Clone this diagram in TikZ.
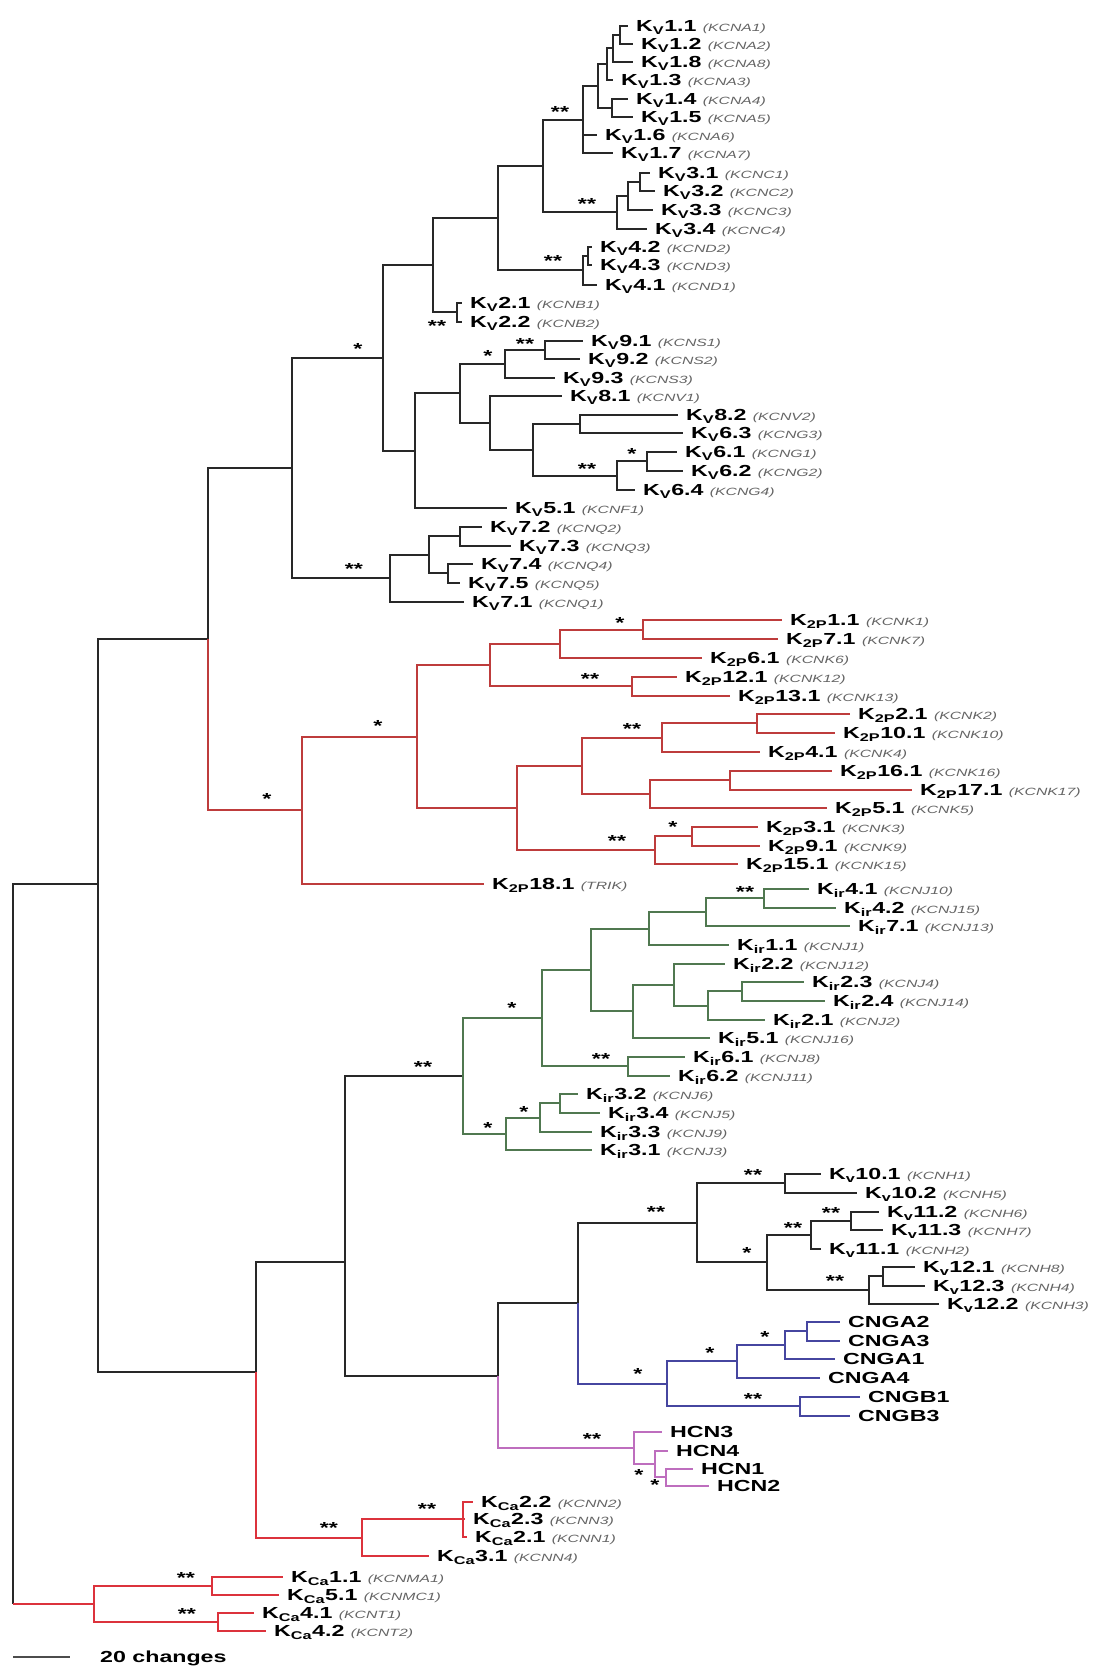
\documentclass[tikz,border=0pt]{standalone}
\usepackage{fontspec}
\setmainfont{Liberation Sans}
\newfontfamily\namefont[FakeStretch=1.45]{Liberation Sans}
\newfontfamily\genefont[FakeStretch=1.5]{Liberation Sans}
\usetikzlibrary{positioning}

\definecolor{kvline}{RGB}{40,40,40}
\definecolor{ktwop}{RGB}{190,60,60}
\definecolor{kirline}{RGB}{80,120,80}
\definecolor{cngline}{RGB}{70,70,160}
\definecolor{hcnline}{RGB}{190,110,190}
\definecolor{kcaline}{RGB}{220,50,60}
\definecolor{genegray}{RGB}{100,100,100}

\newcommand{\chan}[2]{K\textsubscript{#1}#2}
\newcommand{\gene}[1]{{\genefont\mdseries\itshape\fontsize{10.5}{12}\selectfont\color{genegray}(#1)}}

\tikzstyle{branch} = [line width=2pt, draw=kvline]
\tikzstyle{twopbranch} = [branch, draw=ktwop]
\tikzstyle{kirbranch} = [branch, draw=kirline]
\tikzstyle{cngbranch} = [branch, draw=cngline]
\tikzstyle{hcnbranch} = [branch, draw=hcnline]
\tikzstyle{kcabranch} = [branch, draw=kcaline]
\tikzstyle{leaf} = [anchor=west, inner sep=0pt, inner xsep=8pt, text height=11.5pt, text depth=0pt, font=\namefont\bfseries\fontsize{16}{19}\selectfont]
\tikzstyle{boot} = [anchor=base, inner sep=0pt, yshift=-9.5pt, font=\namefont\bfseries\fontsize{16}{19}\selectfont]

\begin{document}
\begin{tikzpicture}[x=1pt,y=-1pt]
\useasboundingbox (0,0) rectangle (1109,1674);

% Kv leaves
\node [leaf] (kv11) at (628,26) {\chan{V}{1.1} \gene{KCNA1}};
\node [leaf] (kv12) at (633,44) {\chan{V}{1.2} \gene{KCNA2}};
\node [leaf] (kv18) at (633,62) {\chan{V}{1.8} \gene{KCNA8}};
\node [leaf] (kv13) at (613,80) {\chan{V}{1.3} \gene{KCNA3}};
\node [leaf] (kv14) at (628,99) {\chan{V}{1.4} \gene{KCNA4}};
\node [leaf] (kv15) at (633,117) {\chan{V}{1.5} \gene{KCNA5}};
\node [leaf] (kv16) at (597,135) {\chan{V}{1.6} \gene{KCNA6}};
\node [leaf] (kv17) at (613,153) {\chan{V}{1.7} \gene{KCNA7}};
\node [leaf] (kv31) at (650,173) {\chan{V}{3.1} \gene{KCNC1}};
\node [leaf] (kv32) at (655,191) {\chan{V}{3.2} \gene{KCNC2}};
\node [leaf] (kv33) at (653,210) {\chan{V}{3.3} \gene{KCNC3}};
\node [leaf] (kv34) at (647,229) {\chan{V}{3.4} \gene{KCNC4}};
\node [leaf] (kv42) at (592,247) {\chan{V}{4.2} \gene{KCND2}};
\node [leaf] (kv43) at (592,265) {\chan{V}{4.3} \gene{KCND3}};
\node [leaf] (kv41) at (597,285) {\chan{V}{4.1} \gene{KCND1}};
\node [leaf] (kv21) at (462,303) {\chan{V}{2.1} \gene{KCNB1}};
\node [leaf] (kv22) at (462,322) {\chan{V}{2.2} \gene{KCNB2}};
\node [leaf] (kv91) at (583,341) {\chan{V}{9.1} \gene{KCNS1}};
\node [leaf] (kv92) at (580,359) {\chan{V}{9.2} \gene{KCNS2}};
\node [leaf] (kv93) at (555,378) {\chan{V}{9.3} \gene{KCNS3}};
\node [leaf] (kv81) at (562,396) {\chan{V}{8.1} \gene{KCNV1}};
\node [leaf] (kv82) at (678,415) {\chan{V}{8.2} \gene{KCNV2}};
\node [leaf] (kv63) at (683,433) {\chan{V}{6.3} \gene{KCNG3}};
\node [leaf] (kv61) at (677,452) {\chan{V}{6.1} \gene{KCNG1}};
\node [leaf] (kv62) at (683,471) {\chan{V}{6.2} \gene{KCNG2}};
\node [leaf] (kv64) at (635,490) {\chan{V}{6.4} \gene{KCNG4}};
\node [leaf] (kv51) at (507,508) {\chan{V}{5.1} \gene{KCNF1}};
\node [leaf] (kv72) at (482,527) {\chan{V}{7.2} \gene{KCNQ2}};
\node [leaf] (kv73) at (511,546) {\chan{V}{7.3} \gene{KCNQ3}};
\node [leaf] (kv74) at (473,564) {\chan{V}{7.4} \gene{KCNQ4}};
\node [leaf] (kv75) at (460,583) {\chan{V}{7.5} \gene{KCNQ5}};
\node [leaf] (kv71) at (464,602) {\chan{V}{7.1} \gene{KCNQ1}};

% K2P leaves
\node [leaf] (p11) at (782,620) {\chan{2P}{1.1} \gene{KCNK1}};
\node [leaf] (p71) at (778,639) {\chan{2P}{7.1} \gene{KCNK7}};
\node [leaf] (p61) at (702,658) {\chan{2P}{6.1} \gene{KCNK6}};
\node [leaf] (p121) at (677,677) {\chan{2P}{12.1} \gene{KCNK12}};
\node [leaf] (p131) at (730,696) {\chan{2P}{13.1} \gene{KCNK13}};
\node [leaf] (p21) at (850,714) {\chan{2P}{2.1} \gene{KCNK2}};
\node [leaf] (p101) at (835,733) {\chan{2P}{10.1} \gene{KCNK10}};
\node [leaf] (p41) at (760,752) {\chan{2P}{4.1} \gene{KCNK4}};
\node [leaf] (p161) at (832,771) {\chan{2P}{16.1} \gene{KCNK16}};
\node [leaf] (p171) at (912,790) {\chan{2P}{17.1} \gene{KCNK17}};
\node [leaf] (p51) at (827,808) {\chan{2P}{5.1} \gene{KCNK5}};
\node [leaf] (p31) at (758,827) {\chan{2P}{3.1} \gene{KCNK3}};
\node [leaf] (p91) at (760,846) {\chan{2P}{9.1} \gene{KCNK9}};
\node [leaf] (p151) at (738,864) {\chan{2P}{15.1} \gene{KCNK15}};
\node [leaf] (p181) at (484,884) {\chan{2P}{18.1} \gene{TRIK}};

% Kir leaves
\node [leaf] (r41) at (809,889) {\chan{ir}{4.1} \gene{KCNJ10}};
\node [leaf] (r42) at (836,908) {\chan{ir}{4.2} \gene{KCNJ15}};
\node [leaf] (r71) at (850,926) {\chan{ir}{7.1} \gene{KCNJ13}};
\node [leaf] (r11) at (729,945) {\chan{ir}{1.1} \gene{KCNJ1}};
\node [leaf] (r22) at (725,964) {\chan{ir}{2.2} \gene{KCNJ12}};
\node [leaf] (r23) at (804,982) {\chan{ir}{2.3} \gene{KCNJ4}};
\node [leaf] (r24) at (825,1001) {\chan{ir}{2.4} \gene{KCNJ14}};
\node [leaf] (r21) at (765,1020) {\chan{ir}{2.1} \gene{KCNJ2}};
\node [leaf] (r51) at (710,1038) {\chan{ir}{5.1} \gene{KCNJ16}};
\node [leaf] (r61) at (685,1057) {\chan{ir}{6.1} \gene{KCNJ8}};
\node [leaf] (r62) at (670,1076) {\chan{ir}{6.2} \gene{KCNJ11}};
\node [leaf] (r32) at (578,1094) {\chan{ir}{3.2} \gene{KCNJ6}};
\node [leaf] (r34) at (600,1113) {\chan{ir}{3.4} \gene{KCNJ5}};
\node [leaf] (r33) at (592,1132) {\chan{ir}{3.3} \gene{KCNJ9}};
\node [leaf] (r31) at (592,1150) {\chan{ir}{3.1} \gene{KCNJ3}};

% Keag leaves
\node [leaf] (h101) at (821,1174) {\chan{v}{10.1} \gene{KCNH1}};
\node [leaf] (h102) at (857,1193) {\chan{v}{10.2} \gene{KCNH5}};
\node [leaf] (h112) at (879,1212) {\chan{v}{11.2} \gene{KCNH6}};
\node [leaf] (h113) at (883,1230) {\chan{v}{11.3} \gene{KCNH7}};
\node [leaf] (h111) at (821,1249) {\chan{v}{11.1} \gene{KCNH2}};
\node [leaf] (h121) at (915,1267) {\chan{v}{12.1} \gene{KCNH8}};
\node [leaf] (h123) at (925,1286) {\chan{v}{12.3} \gene{KCNH4}};
\node [leaf] (h122) at (939,1304) {\chan{v}{12.2} \gene{KCNH3}};

% CNG and HCN leaves
\node [leaf] (ca2) at (840,1322) {CNGA2};
\node [leaf] (ca3) at (840,1341) {CNGA3};
\node [leaf] (ca1) at (835,1359) {CNGA1};
\node [leaf] (ca4) at (820,1378) {CNGA4};
\node [leaf] (cb1) at (860,1397) {CNGB1};
\node [leaf] (cb3) at (850,1416) {CNGB3};
\node [leaf] (hcn3) at (662,1432) {HCN3};
\node [leaf] (hcn4) at (668,1451) {HCN4};
\node [leaf] (hcn1) at (693,1469) {HCN1};
\node [leaf] (hcn2) at (709,1486) {HCN2};

% KCa leaves
\node [leaf] (c22) at (473,1502) {\chan{Ca}{2.2} \gene{KCNN2}};
\node [leaf] (c23) at (465,1519) {\chan{Ca}{2.3} \gene{KCNN3}};
\node [leaf] (c21) at (467,1537) {\chan{Ca}{2.1} \gene{KCNN1}};
\node [leaf] (c31) at (429,1556) {\chan{Ca}{3.1} \gene{KCNN4}};
\node [leaf] (c11) at (283,1577) {\chan{Ca}{1.1} \gene{KCNMA1}};
\node [leaf] (c51) at (279,1595) {\chan{Ca}{5.1} \gene{KCNMC1}};
\node [leaf] (c41) at (254,1613) {\chan{Ca}{4.1} \gene{KCNT1}};
\node [leaf] (c42) at (266,1631) {\chan{Ca}{4.2} \gene{KCNT2}};

% internal nodes
\coordinate (n11) at (620,35);
\coordinate (n12) at (613,48);
\coordinate (n13) at (607,64);
\coordinate (n14) at (612,108);
\coordinate (n15) at (598,86);
\coordinate (kv1) at (583,120);
\coordinate (n31) at (640,182);
\coordinate (n32) at (628,196);
\coordinate (kv3) at (617,212);
\coordinate (kv13g) at (543,166);
\coordinate (n41) at (588,256);
\coordinate (kv4) at (583,270);
\coordinate (kv134) at (498,218);
\coordinate (kv2) at (457,312);
\coordinate (kvE) at (433,265);
\coordinate (n91) at (545,350);
\coordinate (n92) at (505,364);
\coordinate (n61) at (647,461);
\coordinate (n62) at (617,476);
\coordinate (n81) at (580,424);
\coordinate (n63) at (533,450);
\coordinate (n82) at (490,423);
\coordinate (kvG) at (460,393);
\coordinate (kvF) at (415,451);
\coordinate (kvD) at (383,358);
\coordinate (n71) at (460,536);
\coordinate (n72) at (448,573);
\coordinate (n73) at (429,555);
\coordinate (kv7) at (390,578);
\coordinate (kvC) at (292,468);
\coordinate (nB) at (208,639);
\coordinate (L2) at (643,630);
\coordinate (L1) at (560,644);
\coordinate (L3) at (632,686);
\coordinate (L) at (490,665);
\coordinate (M3) at (757,723);
\coordinate (M2) at (662,738);
\coordinate (M5) at (730,780);
\coordinate (M4) at (650,794);
\coordinate (M1) at (582,766);
\coordinate (M7) at (692,836);
\coordinate (M6) at (655,850);
\coordinate (M) at (517,808);
\coordinate (twopK) at (417,737);
\coordinate (twop) at (302,810);
\coordinate (X4) at (764,898);
\coordinate (X3) at (706,912);
\coordinate (X2) at (649,929);
\coordinate (X8) at (742,991);
\coordinate (X7) at (708,1006);
\coordinate (X6) at (674,985);
\coordinate (X5) at (633,1011);
\coordinate (X1) at (591,970);
\coordinate (X9) at (628,1066);
\coordinate (X) at (542,1018);
\coordinate (Y2) at (560,1103);
\coordinate (Y1) at (540,1118);
\coordinate (Y) at (506,1134);
\coordinate (kir) at (463,1076);
\coordinate (eag10) at (785,1183);
\coordinate (eag11a) at (851,1221);
\coordinate (eag11) at (811,1235);
\coordinate (eag12a) at (883,1276);
\coordinate (eag12) at (869,1290);
\coordinate (eag1) at (767,1262);
\coordinate (eag) at (697,1223);
\coordinate (cngC3) at (807,1331);
\coordinate (cngC2) at (785,1345);
\coordinate (cngC1) at (737,1361);
\coordinate (cngB) at (800,1406);
\coordinate (cng) at (667,1384);
\coordinate (eagcng) at (578,1303);
\coordinate (hcnH2) at (666,1477);
\coordinate (hcnH1) at (655,1464);
\coordinate (hcn) at (634,1448);
\coordinate (nP) at (498,1376);
\coordinate (nR) at (345,1262);
\coordinate (kca2) at (463,1519);
\coordinate (kca23) at (362,1538);
\coordinate (nQ) at (256,1372);
\coordinate (nA) at (98,884);
\coordinate (kcaU) at (212,1586);
\coordinate (kcaV) at (218,1622);
\coordinate (kcaT) at (94,1604);
\coordinate (root) at (13,1244);

% branches
\foreach \p/\c in {n11/kv11, n11/kv12, n12/n11, n12/kv18, n13/n12, n13/kv13,
  n14/kv14, n14/kv15, n15/n13, n15/n14, kv1/n15, kv1/kv16, kv1/kv17,
  n31/kv31, n31/kv32, n32/n31, n32/kv33, kv3/n32, kv3/kv34, kv13g/kv1, kv13g/kv3,
  n41/kv42, n41/kv43, kv4/n41, kv4/kv41, kv134/kv13g, kv134/kv4,
  kv2/kv21, kv2/kv22, kvE/kv134, kvE/kv2,
  n91/kv91, n91/kv92, n92/n91, n92/kv93, n61/kv61, n61/kv62, n62/n61, n62/kv64,
  n81/kv82, n81/kv63, n63/n81, n63/n62, n82/kv81, n82/n63, kvG/n92, kvG/n82,
  kvF/kvG, kvF/kv51, kvD/kvE, kvD/kvF,
  n71/kv72, n71/kv73, n72/kv74, n72/kv75, n73/n71, n73/n72, kv7/n73, kv7/kv71,
  kvC/kvD, kvC/kv7, nB/kvC, nA/nB, nA/nQ, nQ/nR, nR/kir, nR/nP, nP/eagcng, eagcng/eag,
  eag10/h101, eag10/h102, eag11a/h112, eag11a/h113, eag11/eag11a, eag11/h111,
  eag12a/h121, eag12a/h123, eag12/eag12a, eag12/h122, eag1/eag11, eag1/eag12,
  eag/eag10, eag/eag1}
  \draw [branch] (\p) |- (\c);

\foreach \p/\c in {nB/twop, twop/twopK, twop/p181, twopK/L, twopK/M, L/L1, L/L3,
  L1/L2, L1/p61, L2/p11, L2/p71, L3/p121, L3/p131, M/M1, M/M6, M1/M2, M1/M4,
  M2/M3, M2/p41, M3/p21, M3/p101, M4/M5, M4/p51, M5/p161, M5/p171,
  M6/M7, M6/p151, M7/p31, M7/p91}
  \draw [twopbranch] (\p) |- (\c);

\foreach \p/\c in {kir/X, kir/Y, X/X1, X/X9, X1/X2, X1/X5, X2/X3, X2/r11,
  X3/X4, X3/r71, X4/r41, X4/r42, X5/X6, X5/r51, X6/r22, X6/X7, X7/X8, X7/r21,
  X8/r23, X8/r24, X9/r61, X9/r62, Y/Y1, Y/r31, Y1/Y2, Y1/r33, Y2/r32, Y2/r34}
  \draw [kirbranch] (\p) |- (\c);

\foreach \p/\c in {eagcng/cng, cng/cngC1, cng/cngB, cngC1/cngC2, cngC1/ca4,
  cngC2/cngC3, cngC2/ca1, cngC3/ca2, cngC3/ca3, cngB/cb1, cngB/cb3}
  \draw [cngbranch] (\p) |- (\c);

\foreach \p/\c in {nP/hcn, hcn/hcn3, hcn/hcnH1, hcnH1/hcn4, hcnH1/hcnH2,
  hcnH2/hcn1, hcnH2/hcn2}
  \draw [hcnbranch] (\p) |- (\c);

\foreach \p/\c in {nQ/kca23, kca23/kca2, kca23/c31, kca2/c22, kca2/c23, kca2/c21,
  kcaT/kcaU, kcaT/kcaV, kcaU/c11, kcaU/c51, kcaV/c41, kcaV/c42}
  \draw [kcabranch] (\p) |- (\c);

\draw [branch] (root) |- (nA);
\draw [branch] (root) -- (root |- kcaT);
\draw [kcabranch] (root |- kcaT) -- (kcaT);

% bootstrap marks
\foreach \c/\dx/\dy/\s in {kv1/-23/-12/**, kv3/-30/-12/**, kv4/-30/-13/**, kv2/-20/10/**,
  kvD/-25/-13/*, kv7/-36/-13/**, n92/-17/-12/*, n91/-20/-10/**, n62/-30/-11/**, n61/-15/-11/*,
  twop/-35/-15/*, twopK/-39/-15/*, L2/-23/-11/*, L3/-42/-11/**, M2/-30/-13/**,
  M7/-19/-13/*, M6/-38/-13/**, kir/-40/-13/**, X/-30/-14/*, X4/-19/-10/**, X9/-27/-11/**,
  Y/-18/-10/*, Y1/-16/-10/*, eag/-41/-15/**, eag10/-32/-12/**, eag1/-20/-13/*,
  eag11/-18/-11/**, eag11a/-20/-12/**, eag12/-34/-13/**, cng/-29/-14/*, cngC1/-27/-12/*,
  cngC2/-20/-12/*, cngB/-47/-11/**, hcn/-42/-13/**, hcnH1/-16/7/*, hcnH2/-11/4/*,
  kca2/-36/-14/**, kca23/-33/-14/**, kcaU/-26/-12/**, kcaV/-31/-12/**}
  \node [boot] at ([shift={(\dx,\dy)}]\c) {\s};

% scale bar
\coordinate (sb1) at (13,1657);
\coordinate (sb2) at (70,1657);
\draw [line width=2.5pt, draw=black!70] (sb1) -- (sb2);
\node [leaf, inner xsep=0pt] (sblabel) at (100,1657) {20 changes};
\end{tikzpicture}
\end{document}
